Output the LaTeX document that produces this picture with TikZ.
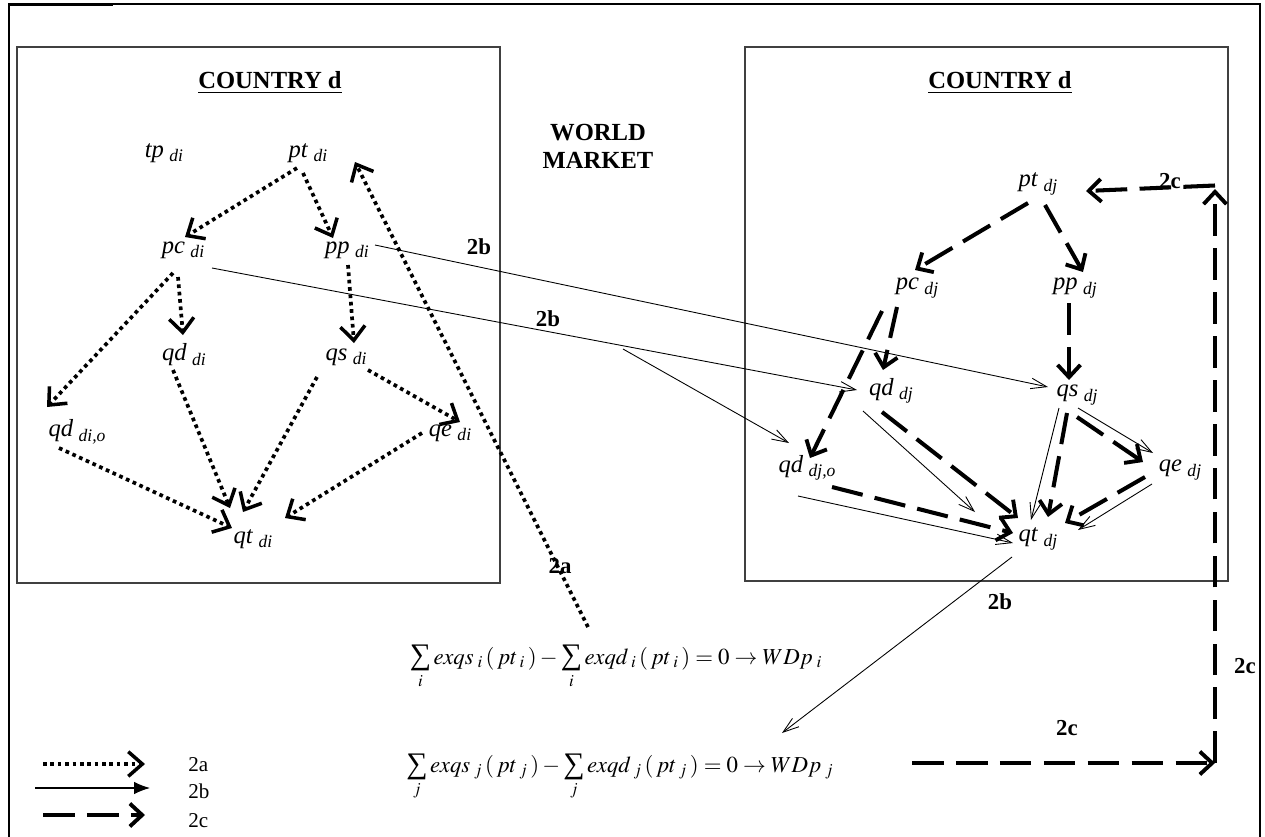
\documentclass[tikz,border=0pt]{standalone}
\usepackage{mathptmx}
\usepackage{fontspec}
\setmainfont{Liberation Serif}
\usetikzlibrary{arrows.meta}
\newcommand{\varlab}[2]{\textit{#1}\hspace{0.22em}\raisebox{-0.4ex}{\fontsize{10}{11}\selectfont\textit{#2}}}
\newcommand{\bsum}{\mathop{\vcenter{\hbox{\fontsize{17}{17}\selectfont ∑}}}\limits}

\begin{document}
\begin{tikzpicture}[
  x=0.02cm, y=-0.02cm,
  var/.style={inner sep=1pt, font=\fontsize{14}{16}\selectfont},
  ttl/.style={align=center, font=\fontsize{14}{16}\selectfont\bfseries},
  tag/.style={inner sep=0pt, font=\fontsize{13}{15}\selectfont\bfseries},
  key/.style={inner sep=0pt, anchor=west, font=\fontsize{12}{14}\selectfont},
  eqn/.style={inner sep=0pt, font=\fontsize{13}{15}\selectfont},
  cbox/.style={line width=0.6pt, draw=black!75},
  dotarr/.style={line width=2.1pt, dash pattern=on 2.1pt off 2.1pt, -{Straight Barb[length=8pt,width=14pt,line width=2pt]}},
  dasharr/.style={line width=2.3pt, dash pattern=on 18pt off 7pt, -{Straight Barb[length=7pt,width=13pt,line width=2.2pt]}},
  thinarr/.style={line width=0.5pt, -{Straight Barb[length=9pt,width=6pt,line width=0.5pt]}}
]
\useasboundingbox (0,0) rectangle (1265,836);
\draw[line width=1.2pt] (9,850) -- (9,4) -- (1260,4) -- (1260,850);
\draw[line width=2.2pt] (9,4.5) -- (113,4.5);
\draw[cbox] (17,47) rectangle (500,583);
\draw[cbox] (745,47) rectangle (1228,581);

\node[ttl] (cntl) at (270,83) {\underline{COUNTRY d}};
\node[ttl] (cntr) at (1000,83) {\underline{COUNTRY d}};
\node[ttl] (world) at (598,146) {WORLD\\MARKET};

\node[var] (tpdi) at (164,153) {\varlab{tp}{di}};
\node[var] (ptdi) at (308,153) {\varlab{pt}{di}};
\node[var] (pcdi) at (183,250) {\varlab{pc}{di}};
\node[var] (ppdi) at (347,250) {\varlab{pp}{di}};
\node[var] (qddi) at (184,355) {\varlab{qd}{di}};
\node[var] (qsdi) at (346,357) {\varlab{qs}{di}};
\node[var] (qdodi) at (77,432) {\varlab{qd}{di,o}};
\node[var] (qedi) at (450,433) {\varlab{qe}{di}};
\node[var] (qtdi) at (253,539) {\varlab{qt}{di}};

\node[var] (ptdj) at (1038,184) {\varlab{pt}{dj}};
\node[var] (pcdj) at (917,288) {\varlab{pc}{dj}};
\node[var] (ppdj) at (1075,288) {\varlab{pp}{dj}};
\node[var] (qddj) at (891,391) {\varlab{qd}{dj}};
\node[var] (qsdj) at (1077,395) {\varlab{qs}{dj}};
\node[var] (qdodj) at (807,468) {\varlab{qd}{dj,o}};
\node[var] (qedj) at (1180,470) {\varlab{qe}{dj}};
\node[var] (qtdj) at (1038,539) {\varlab{qt}{dj}};

\node[eqn] (eqi) at (616,667) {$\bsum_{i} exqs_{\;i}\,(\,pt_{\;i}\,) - \bsum_{i} exqd_{\;i}\,(\,pt_{\;i}\,) = 0 \rightarrow WDp_{\;i}$};
\node[eqn] (eqj) at (620,777) {$\bsum_{j} exqs_{\;j}\,(\,pt_{\;j}\,) - \bsum_{j} exqd_{\;j}\,(\,pt_{\;j}\,) = 0 \rightarrow WDp_{\;j}$};

\node[tag] (tb1) at (479,247) {2b};
\node[tag] (tb2) at (548,319) {2b};
\node[tag] (ta) at (560,566) {2a};
\node[tag] (tb3) at (1000,602) {2b};
\node[tag] (tc1) at (1170,181) {2c};
\node[tag] (tc2) at (1245,666) {2c};
\node[tag] (tc3) at (1067,728) {2c};

\coordinate (cbot) at (1215,763);
\coordinate (ctop) at (1215,189);
\coordinate (brs) at (623,349);

\draw[dotarr] ([shift={(-11,15)}]ptdi.center) -- ([shift={(2,-13)}]pcdi.center);
\draw[dotarr] ([shift={(-5,20)}]ptdi.center) -- ([shift={(-14,-12)}]ppdi.center);
\draw[dotarr] ([shift={(-5,27)}]pcdi.center) -- ([shift={(-1,-20)}]qddi.center);
\draw[dotarr] ([shift={(-10,23)}]pcdi.center) -- ([shift={(-30,-25)}]qdodi.center);
\draw[dotarr] ([shift={(1,15)}]ppdi.center) -- ([shift={(8,-14)}]qsdi.center);
\draw[dotarr] ([shift={(-11,15)}]qddi.center) -- ([shift={(-23,-31)}]qtdi.center);
\draw[dotarr] ([shift={(-29,20)}]qsdi.center) -- ([shift={(-10,-27)}]qtdi.center);
\draw[dotarr] ([shift={(22,13)}]qsdi.center) -- ([shift={(10,-11)}]qedi.center);
\draw[dotarr] ([shift={(-28,0)}]qedi.center) -- ([shift={(32,-21)}]qtdi.center);
\draw[dotarr] ([shift={(-18,16)}]qdodi.center) -- ([shift={(-21,-11)}]qtdi.center);
\draw[dotarr] ([shift={(-28,-40)}]eqi.center) -- ([shift={(47,9)}]ptdi.center);

\draw[thinarr] ([shift={(28,-5)}]ppdi.center) -- ([shift={(-29,-8)}]qsdj.center);
\draw[thinarr] ([shift={(29,18)}]pcdi.center) -- ([shift={(-34,-1)}]qddj.center);
\draw[thinarr] (brs) -- ([shift={(-18,-25)}]qdodj.center);
\draw[thinarr] ([shift={(-28,20)}]qddj.center) -- ([shift={(-63,-27)}]qtdj.center);
\draw[thinarr] ([shift={(-9,28)}]qdodj.center) -- ([shift={(-25,4)}]qtdj.center);
\draw[thinarr] ([shift={(-18,13)}]qsdj.center) -- ([shift={(-7,-19)}]qtdj.center);
\draw[thinarr] ([shift={(1,13)}]qsdj.center) -- ([shift={(-27,-17)}]qedj.center);
\draw[thinarr] ([shift={(-28,14)}]qedj.center) -- ([shift={(40,-9)}]qtdj.center);
\draw[thinarr] ([shift={(-26,18)}]qtdj.center) -- ([shift={(162,-44)}]eqj.center);

\draw[dasharr] ([shift={(-10,19)}]ptdj.center) -- ([shift={(-2,-18)}]pcdj.center);
\draw[dasharr] ([shift={(7,21)}]ptdj.center) -- ([shift={(8,-16)}]ppdj.center);
\draw[dasharr] ([shift={(-20,19)}]pcdj.center) -- ([shift={(-8,-21)}]qddj.center);
\draw[dasharr] ([shift={(-35,23)}]pcdj.center) -- ([shift={(3,-10)}]qdodj.center);
\draw[dasharr] ([shift={(-6,15)}]ppdj.center) -- ([shift={(-8,-15)}]qsdj.center);
\draw[dasharr] ([shift={(-9,21)}]qddj.center) -- ([shift={(-20,-21)}]qtdj.center);
\draw[dasharr] ([shift={(25,19)}]qdodj.center) -- ([shift={(-25,-6)}]qtdj.center);
\draw[dasharr] ([shift={(-10,18)}]qsdj.center) -- ([shift={(10,-22)}]qtdj.center);
\draw[dasharr] ([shift={(0,22)}]qsdj.center) -- ([shift={(-37,-8)}]qedj.center);
\draw[dasharr] ([shift={(-35,7)}]qedj.center) -- ([shift={(27,-16)}]qtdj.center);
\draw[dasharr] ([shift={(292,-14)}]eqj.center) -- (cbot);
\draw[dasharr] (cbot) -- (ctop);
\draw[dasharr] ([yshift=2]ctop) -- ([shift={(48,7)}]ptdj.center);

\node[key] (ka) at (188,765) {2a};
\node[key] (kb) at (188,791) {2b};
\node[key] (kc) at (188,821) {2c};
\draw[dotarr] ([shift={(-145,-1)}]ka.west) -- ([shift={(-43,-1)}]ka.west);
\draw[line width=0.6pt, -{Latex[length=9pt,width=7pt]}] ([shift={(-153,-3)}]kb.west) -- ([shift={(-38,-3)}]kb.west);
\draw[dasharr] ([shift={(-145,-6)}]kc.west) -- ([shift={(-43,-6)}]kc.west);
\end{tikzpicture}
\end{document}
